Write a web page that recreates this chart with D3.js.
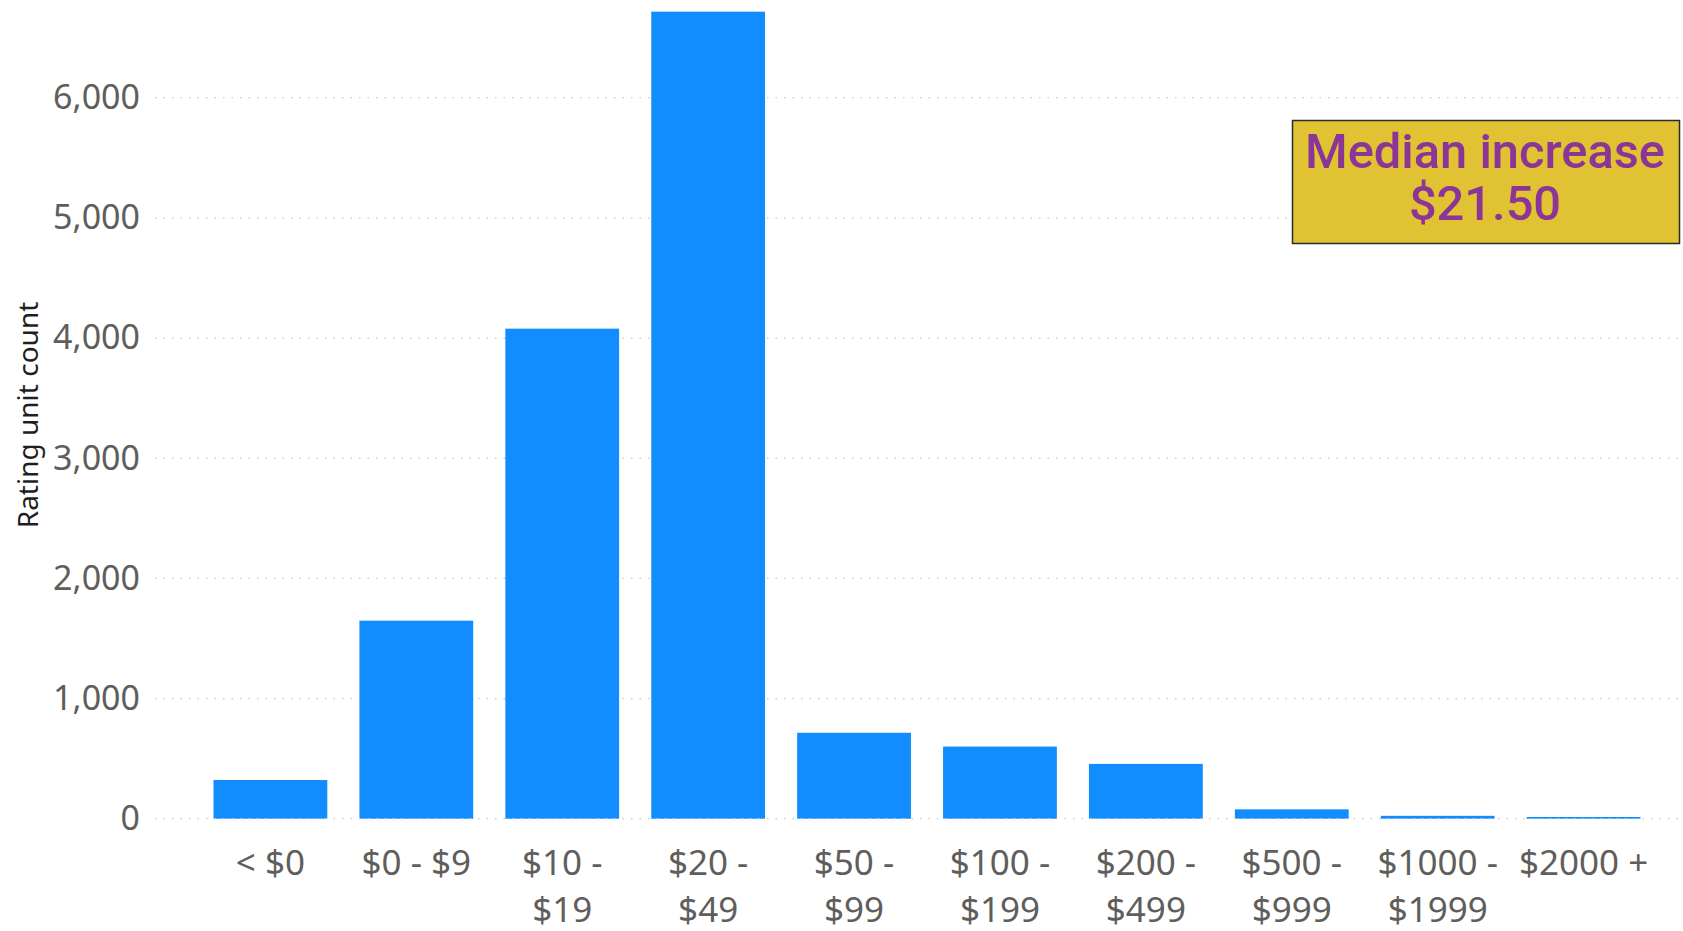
<!DOCTYPE html>
<html>
<head>
<meta charset="utf-8">
<script src="https://cdn.jsdelivr.net/npm/d3@7"></script>
<style>
  body { margin: 0; background: #fff; }
  svg { display: block; }
</style>
</head>
<body>
<div id="chart"></div>
<script>
var width = 1683, height = 931;

// data
const categories = ["< $0", "$0 - $9", "$10 - $19", "$20 - $49", "$50 - $99",
  "$100 - $199", "$200 - $499", "$500 - $999", "$1000 - $1999", "$2000 +"];
const counts = [322, 1648, 4078, 6716, 715, 600, 456, 78, 24, 14];
const yTicks = [0, 1000, 2000, 3000, 4000, 5000, 6000];
const yTitle = "Rating unit count";
const calloutLines = ["Median increase", "$21.50"];

const svg = d3.select("#chart").append("svg")
    .attr("width", width)
    .attr("height", height);

const x = d3.scaleBand()
    .domain(categories)
    .range([196, 1658])
    .paddingInner(0.22)
    .paddingOuter(0.12);

const y = d3.scaleLinear()
    .domain([0, 6000])
    .range([818.7, 97.7]);

const tickFont = "'Noto Sans', 'Open Sans', sans-serif";

// gridlines
const grid = svg.append("g");
grid.selectAll("line")
    .data(yTicks.filter(d => d > 0))
    .join("line")
      .attr("x1", 155)
      .attr("x2", width)
      .attr("y1", d => y(d))
      .attr("y2", d => y(d))
      .attr("stroke", "#c8c8c8")
      .attr("stroke-width", 1.2)
      .attr("stroke-dasharray", "1.5,7");

// bars
svg.append("g").selectAll("rect")
    .data(categories.map((c, i) => ({cat: c, val: counts[i]})))
    .join("rect")
      .attr("x", d => x(d.cat))
      .attr("width", x.bandwidth())
      .attr("y", d => y(d.val))
      .attr("height", d => y(0) - y(d.val))
      .attr("fill", "#118dff");

// zero line on top
svg.append("line")
    .attr("x1", 155).attr("x2", width)
    .attr("y1", y(0)).attr("y2", y(0))
    .attr("stroke", "#c8c8c8")
    .attr("stroke-width", 1.2)
    .attr("stroke-dasharray", "1.5,7");

// y axis
const yAxis = d3.axisLeft(y)
    .tickValues(yTicks)
    .tickFormat(d3.format(","))
    .tickSize(0)
    .tickPadding(0);

svg.append("g")
    .attr("transform", "translate(140,0)")
    .call(yAxis)
    .call(g => g.select(".domain").remove())
    .selectAll("text")
      .attr("font-family", tickFont)
      .attr("font-size", 34)
      .attr("fill", "#605e5c");

// x axis
const xAxis = d3.axisBottom(x).tickSize(0).tickPadding(0);

const xg = svg.append("g")
    .attr("transform", "translate(0,845)")
    .call(xAxis)
    .call(g => g.select(".domain").remove());

xg.selectAll("text")
    .attr("font-family", tickFont)
    .attr("font-size", 35)
    .attr("fill", "#605e5c")
    .attr("dy", null)
    .call(wrap, x.step() * 0.97);

function wrap(texts, maxW) {
  texts.each(function() {
    const text = d3.select(this);
    const words = text.text().split(/\s+/);
    text.text(null);
    let line = [];
    let lineNo = 0;
    let tspan = text.append("tspan").attr("x", 0).attr("y", 30);
    words.forEach(function(w) {
      line.push(w);
      tspan.text(line.join(" "));
      if (tspan.node().getComputedTextLength() > maxW && line.length > 1) {
        line.pop();
        tspan.text(line.join(" "));
        line = [w];
        lineNo++;
        tspan = text.append("tspan").attr("x", 0).attr("y", 30 + lineNo * 47).text(w);
      }
    });
  });
}

// y title
svg.append("text")
    .attr("transform", "translate(38,415) rotate(-90)")
    .attr("text-anchor", "middle")
    .attr("font-family", tickFont)
    .attr("font-size", 28)
    .attr("fill", "#1f1f1f")
    .text(yTitle);

// callout box
const box = svg.append("g");
box.append("rect")
    .attr("x", 1292.5)
    .attr("y", 120.5)
    .attr("width", 387)
    .attr("height", 123)
    .attr("fill", "#e0c232")
    .attr("stroke", "#2a2a2a")
    .attr("stroke-width", 1.5);

box.selectAll("text")
    .data(calloutLines)
    .join("text")
      .attr("x", 1485)
      .attr("y", (d, i) => 168 + i * 52)
      .attr("text-anchor", "middle")
      .attr("font-family", "Roboto, 'DejaVu Sans', sans-serif")
      .attr("font-weight", 500)
      .attr("font-size", 46)
      .attr("fill", "#8b3597")
      .text(d => d);

// fit the first callout line to the width seen in the picture
const firstLine = box.select("text").node();
const w0 = firstLine.getComputedTextLength();
box.selectAll("text").attr("font-size", 46 * 360 / w0);
</script>
</body>
</html>
